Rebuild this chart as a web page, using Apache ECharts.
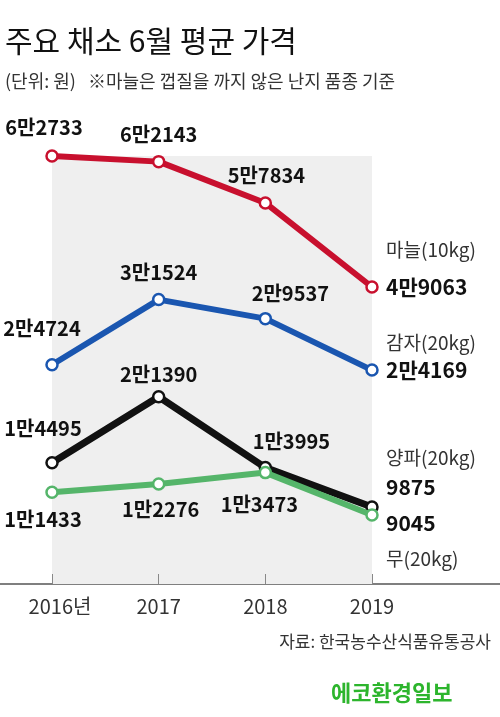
<!DOCTYPE html>
<html><head><meta charset="utf-8">
<script src="https://cdn.jsdelivr.net/npm/echarts@6/dist/echarts.min.js"></script>
<style>html,body{margin:0;padding:0;background:#fff}#c{width:500px;height:717px}</style>
</head><body><div id="c"></div>
<script>
const years = ['2016', '2017', '2018', '2019'];
const yearLabels = ['2016년', '2017', '2018', '2019'];
const garlic = [62733, 62143, 57834, 49063];
const potato = [24724, 31524, 29537, 24169];
const onion = [14495, 21390, 13995, 9875];
const radish = [11433, 12276, 13473, 9045];
const seriesNames = ['마늘(10kg)', '감자(20kg)', '양파(20kg)', '무(20kg)'];
const titleText = '주요 채소 6월 평균 가격';
const subText = '(단위: 원)   ※마늘은 껍질을 까지 않은 난지 품종 기준';
const sourceText = '자료: 한국농수산식품유통공사';
const markText = '에코환경일보';

// label placement styles (not data)
const FONT = 'Noto Sans CJK KR';
const colors = ['#c8102e', '#1a56b0', '#111111', '#55b56a'];
const widths = [6, 6, 7, 6];
const labelOffsets = [
  [[-8, -29], [0, -27], [1, -28]],
  [[-10, -36], [0, -27], [25, -25]],
  [[-9, -34], [0, -22], [26, -26]],
  [[-9, 27], [2, 25], [-6, 32]]
];
const endValueDy = [0, 0, -20, 8];
const endGap = [-37, -27, -29, 36];

function fmt(v) {
  const man = Math.floor(v / 10000), rest = v % 10000;
  return man > 0 ? man + '만' + rest : String(rest);
}

function buildData(values, si) {
  return values.map((v, i) => {
    if (i < values.length - 1) {
      const o = labelOffsets[si][i];
      return { value: v, label: { show: true, position: 'inside', align: 'center', verticalAlign: 'middle',
        offset: o, formatter: fmt(v), fontFamily: FONT, fontSize: 20, fontWeight: 'bold', color: '#111', lineHeight: 22 } };
    }
    const gap = endGap[si];
    const lh = Math.abs(gap);
    const vdy = endValueDy[si];
    const c = vdy + gap / 2;
    const txt = gap < 0 ? '{n|' + seriesNames[si] + '}\n{v|' + fmt(v) + '}' : '{v|' + fmt(v) + '}\n{n|' + seriesNames[si] + '}';
    return { value: v, label: { show: true, position: 'inside', align: 'left', verticalAlign: 'middle',
      offset: [14, c], formatter: txt,
      rich: {
        n: { fontFamily: FONT, fontSize: 19, color: '#333', lineHeight: lh },
        v: { fontFamily: FONT, fontSize: 21, fontWeight: 'bold', color: '#111', lineHeight: lh }
      } } };
  });
}

const allValues = [garlic, potato, onion, radish];
const series = allValues.map((vals, si) => ({
  type: 'line',
  name: seriesNames[si],
  xAxisIndex: 0,
  yAxisIndex: si === 0 ? 1 : 0,
  data: buildData(vals, si),
  symbol: 'circle',
  symbolSize: 11,
  lineStyle: { color: colors[si], width: widths[si] },
  itemStyle: { color: '#fff', borderColor: colors[si], borderWidth: 2.5 },
  z: 3 + si,
  animation: false
}));
series[0].markArea = {
  silent: true,
  itemStyle: { color: '#efefef' },
  data: [[{ xAxis: years[0], yAxis: garlic[0] }, { xAxis: years[3], yAxis: 18073 }]]
};

const chart = echarts.init(document.getElementById('c'), null, { renderer: 'canvas' });
chart.setOption({
  backgroundColor: '#fff',
  animation: false,
  title: [
    { text: titleText, left: 0, top: 21, textStyle: { fontFamily: FONT, fontSize: 30, fontWeight: 'normal', color: '#111' } },
    { text: subText, left: 0, top: 67, textStyle: { fontFamily: FONT, fontSize: 18, fontWeight: 'normal', color: '#333' } },
    { text: sourceText, right: 4, top: 628, textStyle: { fontFamily: FONT, fontSize: 17, fontWeight: 'normal', color: '#333' } },
    { text: markText, left: 326, top: 677, textStyle: { fontFamily: FONT, fontSize: 22, fontWeight: 'bold', color: '#2db52d' } }
  ],
  grid: [
    { left: 52, right: 128, top: 100, bottom: 133 },
    { left: 0, right: 0, top: 100, bottom: 133 }
  ],
  xAxis: [
    { type: 'category', gridIndex: 0, data: years, boundaryGap: false, z: 20,
      axisLine: { show: false },
      axisTick: { show: true, inside: true, length: 10, interval: 0, lineStyle: { color: '#888', width: 1 } },
      axisLabel: { margin: 12, interval: 0, fontFamily: FONT, fontSize: 20, color: '#333',
        formatter: (v, i) => i === 0 ? '{f|' + yearLabels[i] + '}' : yearLabels[i],
        rich: { f: { fontFamily: FONT, fontSize: 20, color: '#333', padding: [0, 0, 0, 16] } } },
      splitLine: { show: false } },
    { type: 'value', gridIndex: 1, min: 0, max: 1,
      axisLine: { show: true, onZero: false, lineStyle: { color: '#555', width: 1.5 } },
      axisTick: { show: false }, axisLabel: { show: false }, splitLine: { show: false } }
  ],
  yAxis: [
    { type: 'value', gridIndex: 0, min: 1850, max: 52350, show: false, splitLine: { show: false } },
    { type: 'value', gridIndex: 0, min: 18073, max: 68573, show: false, splitLine: { show: false } },
    { type: 'value', gridIndex: 1, min: 0, max: 1, show: false }
  ],
  series: series
});
</script>
</body></html>
